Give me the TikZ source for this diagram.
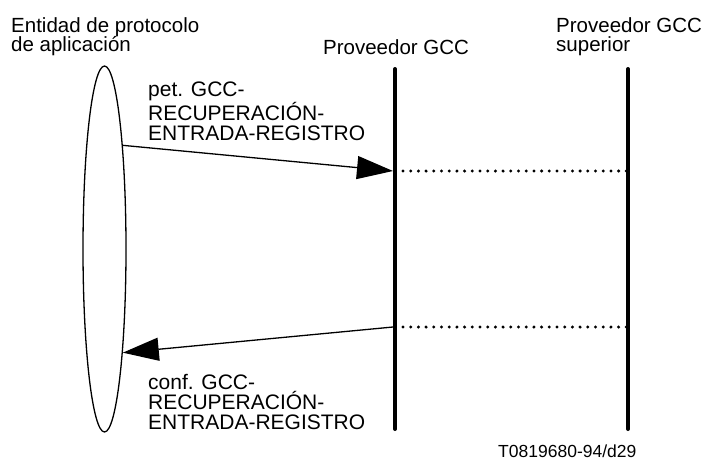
\documentclass[tikz,border=0pt]{standalone}
\usepackage{fontspec}
\setmainfont{Liberation Sans}
\usetikzlibrary{arrows.meta,shapes.geometric}

\begin{document}
\begin{tikzpicture}[x=1pt,y=-1pt,
    lbl/.style={anchor=north west,inner sep=0pt,align=left,font=\fontsize{20.5}{19.8}\selectfont},
    msg/.style={line width=1.3pt,-{Triangle[length=36pt,width=23pt]}},
    vida/.style={line width=4pt,line cap=round},
    punt/.style={line width=3.3pt,line cap=round,dash pattern=on 0pt off 7.7pt}]
            \useasboundingbox (0,0) rectangle (702,464);
            \node(ent) at (11,17) [lbl] {Entidad de protocolo\\de aplicación};
            \node(gcc) at (323,39) [lbl] {Proveedor GCC};
            \node(sup) at (556,17) [lbl] {Proveedor GCC\\superior};
            \node(ape) at (104.5,249) [draw,ellipse,line width=1.3pt,minimum width=43pt,minimum height=366pt,inner sep=0pt] {};
            \coordinate(g1) at (395,69);
            \coordinate(g2) at (395,429);
            \coordinate(s1) at (628,69);
            \coordinate(s2) at (628,429);
            \draw[vida] (g1) -- (g2) (s1) -- (s2);
            \coordinate(a1) at (393,171);
            \coordinate(a2) at (393,327);
            \draw[msg] (ape.80) -- (a1);
            \draw[msg] (a2) -- (ape.-80);
            \coordinate(d1) at (403,171);
            \coordinate(d2) at (627,171);
            \coordinate(d3) at (403,327);
            \coordinate(d4) at (627,327);
            \draw[punt] (d1) -- (d2) (d3) -- (d4);
            \node(pet) at (148,82) [lbl,font=\fontsize{21}{19.8}\selectfont] {pet. GCC-\\RECUPERACIÓN-\\ENTRADA-REGISTRO};
            \node(conf) at (148,374) [lbl,font=\fontsize{21}{19.8}\selectfont] {conf. GCC-\\RECUPERACIÓN-\\ENTRADA-REGISTRO};
            \node(ref) at (498,457) [anchor=base west,inner sep=0pt,font=\fontsize{17.5}{20}\selectfont] {T0819680-94/d29};
        \end{tikzpicture}
\end{document}
